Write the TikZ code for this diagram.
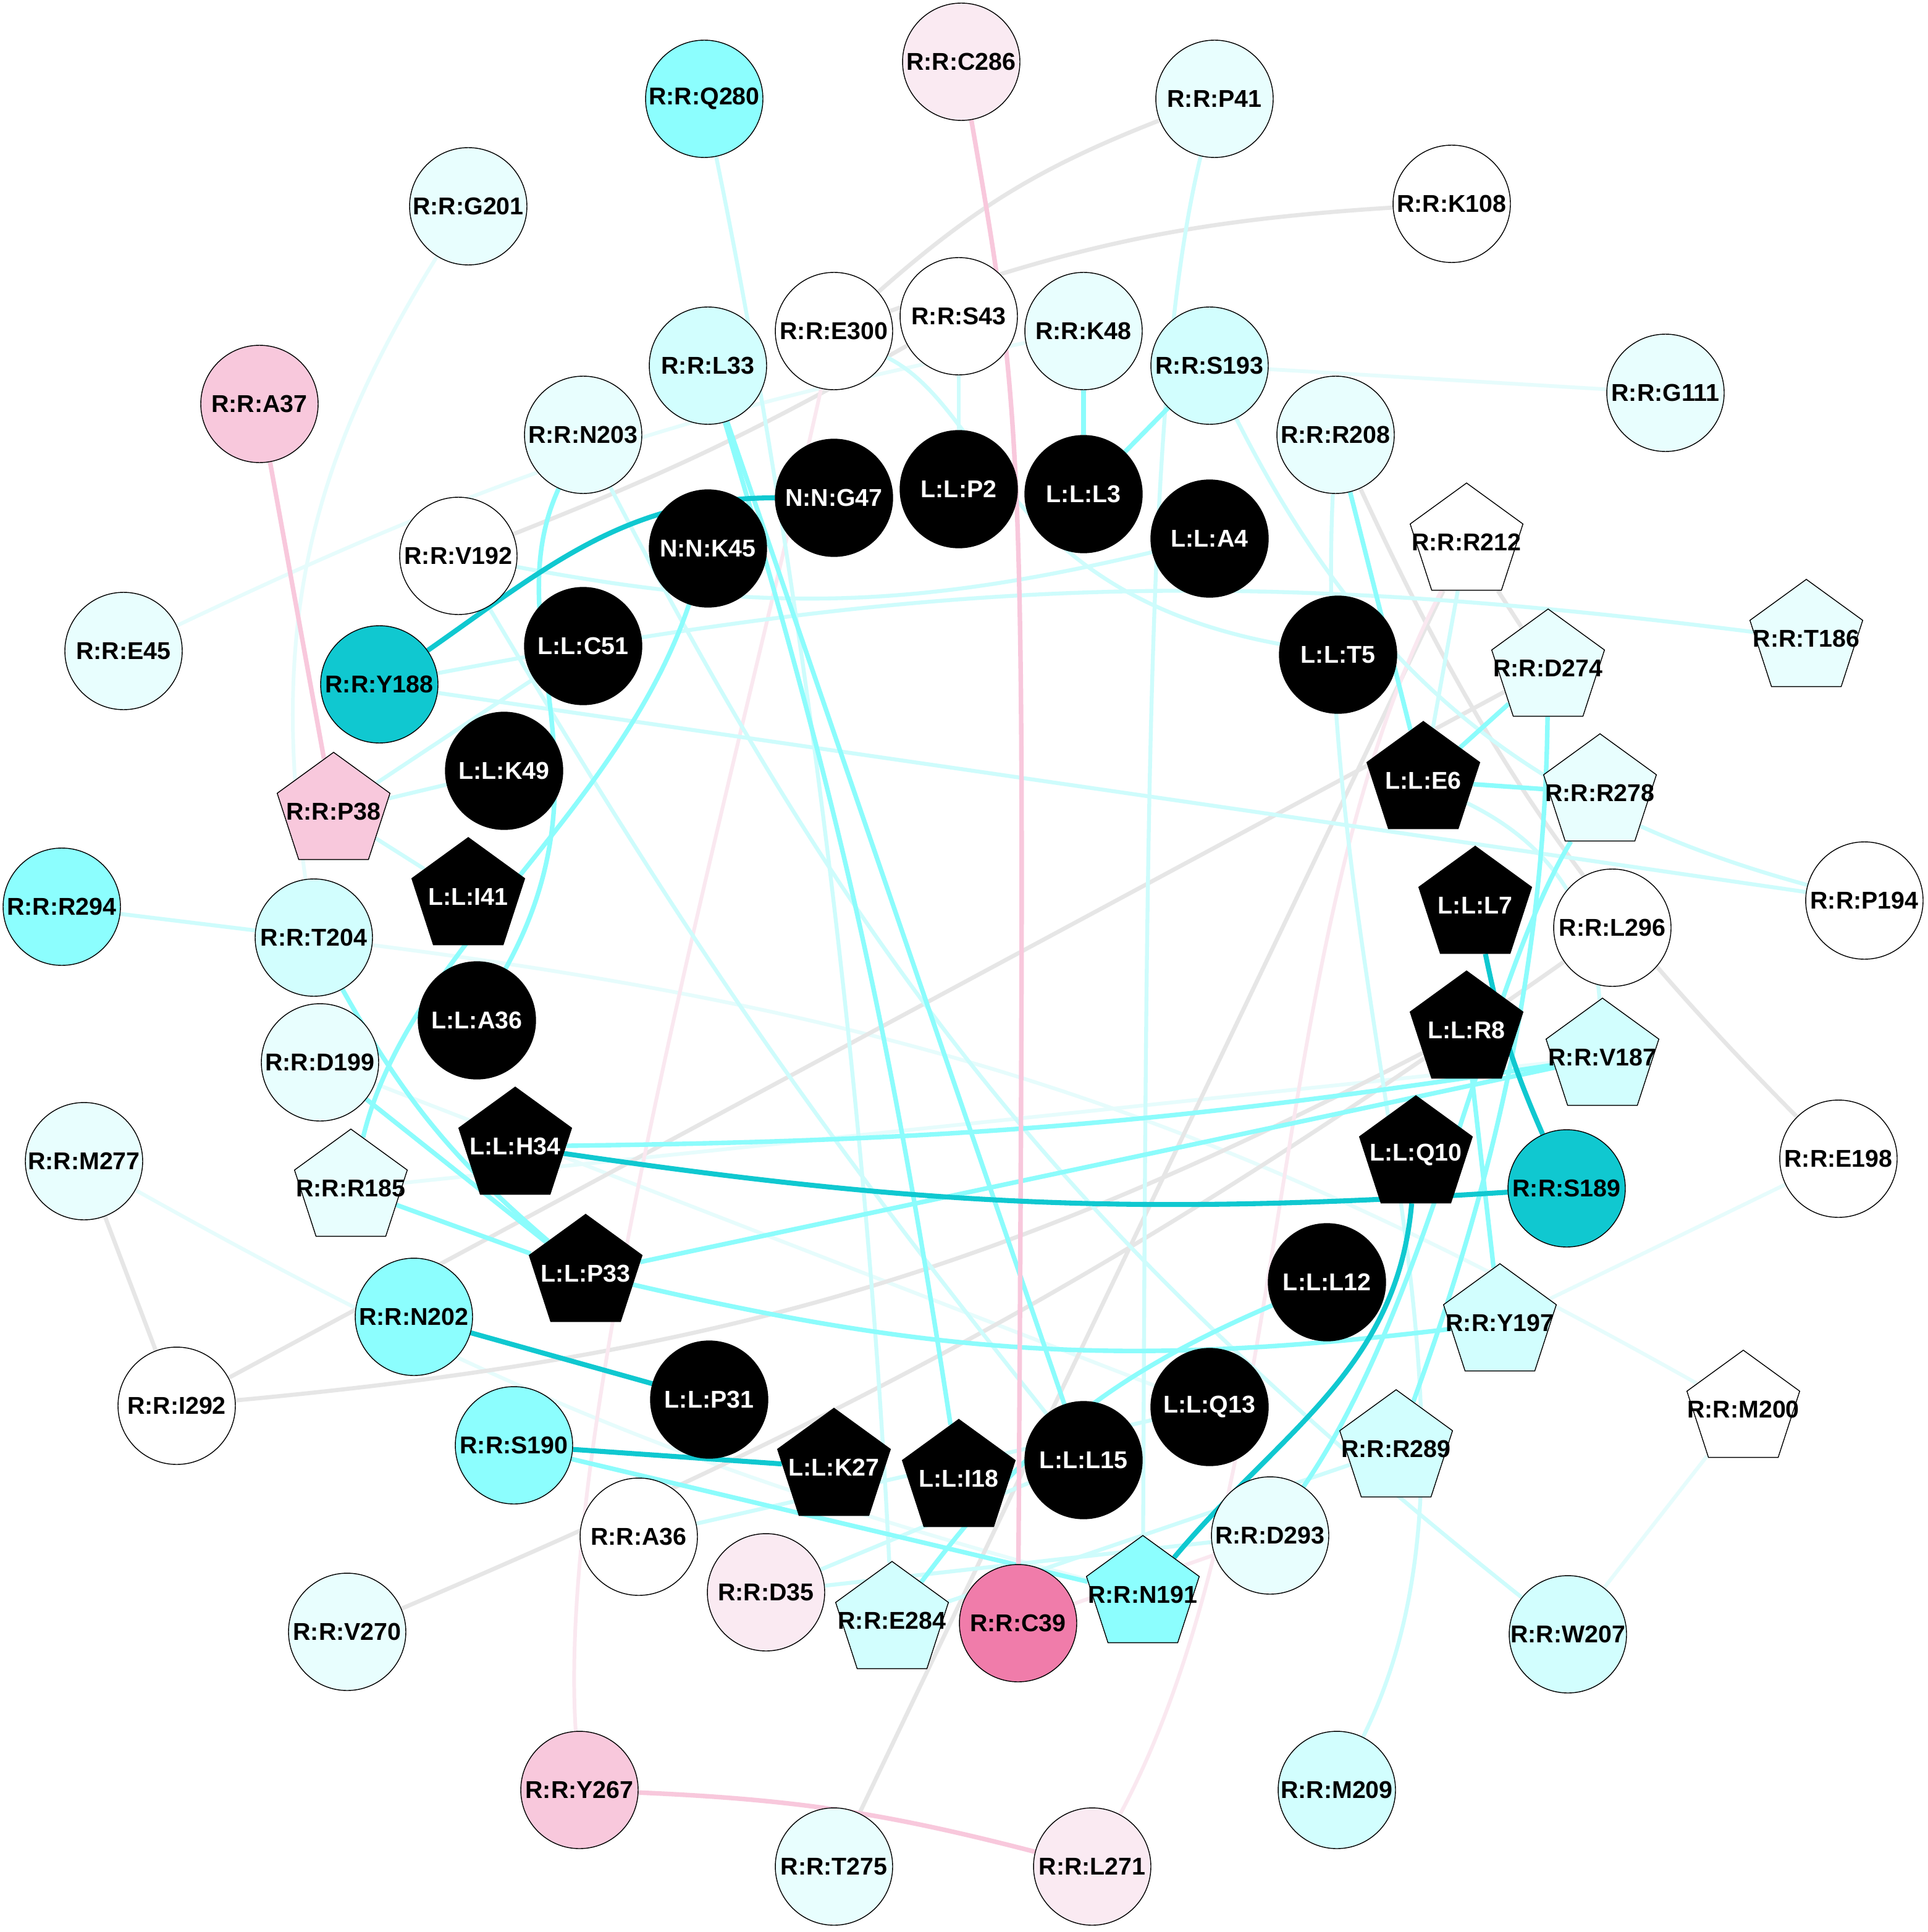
\documentclass[tikz,border=0pt]{standalone}
\usepackage{fontspec}
\setmainfont{Liberation Sans}
\usetikzlibrary{shapes.geometric,backgrounds}
\definecolor{cA}{RGB}{16,200,208}
\definecolor{cB}{RGB}{140,254,254}
\definecolor{cC}{RGB}{210,254,254}
\definecolor{cD}{RGB}{232,254,254}
\definecolor{pA}{RGB}{240,124,170}
\definecolor{pB}{RGB}{248,200,220}
\definecolor{pC}{RGB}{250,234,242}
\definecolor{eB}{RGB}{140,252,252}
\definecolor{eC}{RGB}{206,252,252}
\definecolor{eD}{RGB}{230,252,252}
\definecolor{eG}{RGB}{230,230,230}
\definecolor{eP}{RGB}{250,232,240}
\newcommand{\reslab}[1]{\makebox[0pt]{#1}}
\tikzset{
	res/.style={circle,draw=black,line width=0.4pt,minimum size=1.9cm,inner sep=0pt,font=\fontsize{11.2}{13}\selectfont\bfseries},
	respent/.style={regular polygon,regular polygon sides=5,draw=black,line width=0.4pt,minimum size=1.92cm,inner sep=0pt,font=\fontsize{11.2}{13}\selectfont\bfseries},
	lig/.style={res,fill=black,text=white},
	ligpent/.style={respent,fill=black,text=white},
	cdark/.style={draw=cA,line width=2.3pt},
	cmid/.style={draw=eB,line width=2.1pt},
	clight/.style={draw=eC,line width=1.8pt},
	cfaint/.style={draw=eD,line width=1.7pt},
	cgrey/.style={draw=eG,line width=1.9pt},
	cpink/.style={draw=pB,line width=2.1pt},
	cpinkf/.style={draw=eP,line width=1.7pt}
}
\begin{document}
\begin{tikzpicture}[x=0.02cm,y=-0.02cm]
		\useasboundingbox (0,0) rectangle (1560,1564);
		\node[res,fill=cB] (RQ280) at (570,80) {\reslab{R:R:Q280}};
		\node[res,fill=pC] (RC286) at (778,50) {\reslab{R:R:C286}};
		\node[res,fill=cD] (RP41) at (983,80) {\reslab{R:R:P41}};
		\node[res,fill=cD] (RG201) at (379,167) {\reslab{R:R:G201}};
		\node[res,fill=white] (RK108) at (1175,165) {\reslab{R:R:K108}};
		\node[res,fill=white] (RE300) at (675,268) {\reslab{R:R:E300}};
		\node[res,fill=white] (RS43) at (776,256) {\reslab{R:R:S43}};
		\node[res,fill=cD] (RK48) at (877,268) {\reslab{R:R:K48}};
		\node[res,fill=cC] (RL33) at (573,296) {\reslab{R:R:L33}};
		\node[res,fill=cC] (RS193) at (979,296) {\reslab{R:R:S193}};
		\node[res,fill=cD] (RG111) at (1348,318) {\reslab{R:R:G111}};
		\node[res,fill=pB] (RA37) at (210,327) {\reslab{R:R:A37}};
		\node[res,fill=cD] (RN203) at (472,352) {\reslab{R:R:N203}};
		\node[res,fill=cD] (RR208) at (1081,352) {\reslab{R:R:R208}};
		\node[res,fill=white] (RV192) at (371,450) {\reslab{R:R:V192}};
		\node[res,fill=cD] (RE45) at (100,527) {\reslab{R:R:E45}};
		\node[res,fill=cA] (RY188) at (307,554) {\reslab{R:R:Y188}};
		\node[res,fill=cB] (RR294) at (50,734) {\reslab{R:R:R294}};
		\node[res,fill=cC] (RT204) at (254,759) {\reslab{R:R:T204}};
		\node[res,fill=white] (RP194) at (1509,729) {\reslab{R:R:P194}};
		\node[res,fill=white] (RL296) at (1305,751) {\reslab{R:R:L296}};
		\node[res,fill=cD] (RD199) at (259,860) {\reslab{R:R:D199}};
		\node[res,fill=cD] (RM277) at (68,940) {\reslab{R:R:M277}};
		\node[res,fill=white] (RE198) at (1488,938) {\reslab{R:R:E198}};
		\node[res,fill=cA] (RS189) at (1268,962) {\reslab{R:R:S189}};
		\node[res,fill=cB] (RN202) at (335,1066) {\reslab{R:R:N202}};
		\node[res,fill=white] (RI292) at (143,1138) {\reslab{R:R:I292}};
		\node[res,fill=cB] (RS190) at (416,1170) {\reslab{R:R:S190}};
		\node[res,fill=white] (RA36) at (517,1244) {\reslab{R:R:A36}};
		\node[res,fill=pC] (RD35) at (620,1289) {\reslab{R:R:D35}};
		\node[res,fill=pA] (RC39) at (824,1314) {\reslab{R:R:C39}};
		\node[res,fill=cD] (RD293) at (1028,1243) {\reslab{R:R:D293}};
		\node[res,fill=cD] (RV270) at (281,1321) {\reslab{R:R:V270}};
		\node[res,fill=cC] (RW207) at (1269,1323) {\reslab{R:R:W207}};
		\node[res,fill=cC] (RM209) at (1082,1449) {\reslab{R:R:M209}};
		\node[res,fill=pB] (RY267) at (469,1449) {\reslab{R:R:Y267}};
		\node[res,fill=cD] (RT275) at (675,1511) {\reslab{R:R:T275}};
		\node[res,fill=pC] (RL271) at (884,1511) {\reslab{R:R:L271}};
		\node[respent,fill=white] (RR212) at (1187,439) {\reslab{R:R:R212}};
		\node[respent,fill=cD] (RT186) at (1462,517) {\reslab{R:R:T186}};
		\node[respent,fill=cD] (RD274) at (1253,541) {\reslab{R:R:D274}};
		\node[respent,fill=cD] (RR278) at (1295,642) {\reslab{R:R:R278}};
		\node[respent,fill=pB] (RP38) at (270,657) {\reslab{R:R:P38}};
		\node[respent,fill=cC] (RV187) at (1297,856) {\reslab{R:R:V187}};
		\node[respent,fill=cD] (RR185) at (284,962) {\reslab{R:R:R185}};
		\node[respent,fill=cC] (RY197) at (1214,1071) {\reslab{R:R:Y197}};
		\node[respent,fill=white] (RM200) at (1411,1141) {\reslab{R:R:M200}};
		\node[respent,fill=cC] (RR289) at (1130,1173) {\reslab{R:R:R289}};
		\node[respent,fill=cC] (RE284) at (722,1312) {\reslab{R:R:E284}};
		\node[respent,fill=cB] (RN191) at (925,1291) {\reslab{R:R:N191}};
		\node[lig] (NG47) at (675,403) {\reslab{N:N:G47}};
		\node[lig] (LP2) at (776,396) {\reslab{L:L:P2}};
		\node[lig] (LL3) at (877,400) {\reslab{L:L:L3}};
		\node[lig] (NK45) at (573,444) {\reslab{N:N:K45}};
		\node[lig] (LA4) at (979,436) {\reslab{L:L:A4}};
		\node[lig] (LC51) at (472,523) {\reslab{L:L:C51}};
		\node[lig] (LT5) at (1083,530) {\reslab{L:L:T5}};
		\node[lig] (LK49) at (408,624) {\reslab{L:L:K49}};
		\node[lig] (LA36) at (386,826) {\reslab{L:L:A36}};
		\node[lig] (LL12) at (1074,1038) {\reslab{L:L:L12}};
		\node[lig] (LP31) at (574,1133) {\reslab{L:L:P31}};
		\node[lig] (LQ13) at (979,1139) {\reslab{L:L:Q13}};
		\node[lig] (LL15) at (877,1182) {\reslab{L:L:L15}};
		\node[ligpent] (LE6) at (1152,632) {\reslab{L:L:E6}};
		\node[ligpent] (LI41) at (379,726) {\reslab{L:L:I41}};
		\node[ligpent] (LL7) at (1194,733) {\reslab{L:L:L7}};
		\node[ligpent] (LR8) at (1187,834) {\reslab{L:L:R8}};
		\node[ligpent] (LH34) at (417,928) {\reslab{L:L:H34}};
		\node[ligpent] (LQ10) at (1146,935) {\reslab{L:L:Q10}};
		\node[ligpent] (LP33) at (474,1031) {\reslab{L:L:P33}};
		\node[ligpent] (LK27) at (675,1188) {\reslab{L:L:K27}};
		\node[ligpent] (LI18) at (776,1197) {\reslab{L:L:I18}};
		\begin{scope}[on background layer]
		\fill[white] (0,0) rectangle (1560,1564);
		\draw[cfaint] (RG201) to[bend right=20] (RT204);
		\draw[cfaint] (RE45) to[bend left=7] (RK48);
		\draw[cfaint] (RS193) -- (RG111);
		\draw[cfaint] (RT204) to[bend left=11] (RM200);
		\draw[cfaint] (RD199) -- (LQ13);
		\draw[cfaint] (RR185) -- (RV187);
		\draw[cfaint] (RM277) to[bend right=7] (RN191);
		\draw[cfaint] (RE198) -- (RY197);
		\draw[cfaint] (RM200) -- (RW207);
		\draw[cgrey] (RP41) to[bend right=10] (RE300);
		\draw[cgrey] (RK108) to[bend right=8] (RE300);
		\draw[cgrey] (RV192) to[bend right=4] (RS43);
		\draw[cgrey] (RM277) -- (RI292);
		\draw[cgrey] (RI292) -- (RD274);
		\draw[cgrey] (RI292) to[bend right=11] (LR8);
		\draw[cgrey] (RV270) to[bend right=6] (RL296);
		\draw[cgrey] (RT275) -- (RR212);
		\draw[cgrey] (RR208) to[bend right=10] (RE198);
		\draw[cgrey] (RR212) -- (RD274);
		\draw[cpinkf] (RE300) .. controls (590,650) and (450,1150) .. (RY267);
		\draw[cpinkf] (RR212) .. controls (1020,760) and (1050,1200) .. (RL271);
		\draw[cpinkf] (RC39) -- (RD293);
		\draw[clight] (RQ280) .. controls (640,420) and (700,850) .. (RE284);
		\draw[clight] (RP41) .. controls (930,300) and (928,600) .. (RN191);
		\draw[clight] (RS43) -- (LP2);
		\draw[clight] (RE300) .. controls (800,330) and (810,480) .. (LT5);
		\draw[clight] (RV192) to[bend right=12] (LA4);
		\draw[clight] (RY188) -- (RP194);
		\draw[clight] (RY188) to[bend left=9] (RT186);
		\draw[clight] (RS193) to[bend right=24] (RP194);
		\draw[clight] (RR212) -- (LE6);
		\draw[clight] (RR208) .. controls (1060,800) and (1230,1150) .. (RM209);
		\draw[clight] (RN203) to[bend right=12] (RW207);
		\draw[clight] (RV192) to[bend right=4] (LL15);
		\draw[clight] (RP38) -- (LK49);
		\draw[clight] (RP38) -- (LI41);
		\draw[clight] (RP38) -- (LC51);
		\draw[clight] (RR294) -- (RT204);
		\draw[clight] (RR289) -- (RE284);
		\draw[clight] (RD293) -- (RD35);
		\draw[clight] (RA36) -- (LQ13);
		\draw[clight] (RD35) -- (LL15);
		\draw[clight] (LE6) to[bend left=30] (RV187);
		\draw[cmid] (RK48) -- (LL3);
		\draw[cmid] (RS193) -- (LL3);
		\draw[cmid] (RL33) to[bend left=4] (LI18);
		\draw[cmid] (RL33) -- (LL15);
		\draw[cmid] (RN203) .. controls (400,510) and (500,620) .. (LA36);
		\draw[cmid] (NK45) .. controls (500,660) and (330,770) .. (RR185);
		\draw[cmid] (LE6) -- (RR278);
		\draw[cmid] (RR208) -- (LE6);
		\draw[cmid] (RD274) -- (LE6);
		\draw[cmid] (RD274) .. controls (1250,800) and (1200,980) .. (RR289);
		\draw[cmid] (LP33) to[bend right=10] (RY197);
		\draw[cmid] (LP33) -- (RV187);
		\draw[cmid] (LH34) to[bend right=4] (RV187);
		\draw[cmid] (RR278) .. controls (1200,800) and (1160,1050) .. (RD293);
		\draw[cmid] (LL12) to[bend right=15] (RE284);
		\draw[cmid] (RT204) to[bend right=10] (LP33);
		\draw[cmid] (RD199) -- (LP33);
		\draw[cmid] (RR185) -- (LP33);
		\draw[cmid] (RS190) -- (RN191);
		\draw[cmid] (LR8) -- (RY197);
		\draw[cpink] (RC286) .. controls (830,350) .. (RC39);
		\draw[cpink] (RA37) -- (RP38);
		\draw[cpink] (RY267) to[bend left=6] (RL271);
		\draw[cdark] (RY188) to[out=35,in=180] (NG47);
		\draw[cdark] (LH34) to[bend right=6] (RS189);
		\draw[cdark] (RS189) to[bend left=6] (LL7);
		\draw[cdark] (LQ10) to[out=-95,in=50] (RN191);
		\draw[cdark] (RN202) -- (LP31);
		\draw[cdark] (RS190) -- (LK27);
		\end{scope}
		\end{tikzpicture}
\end{document}
